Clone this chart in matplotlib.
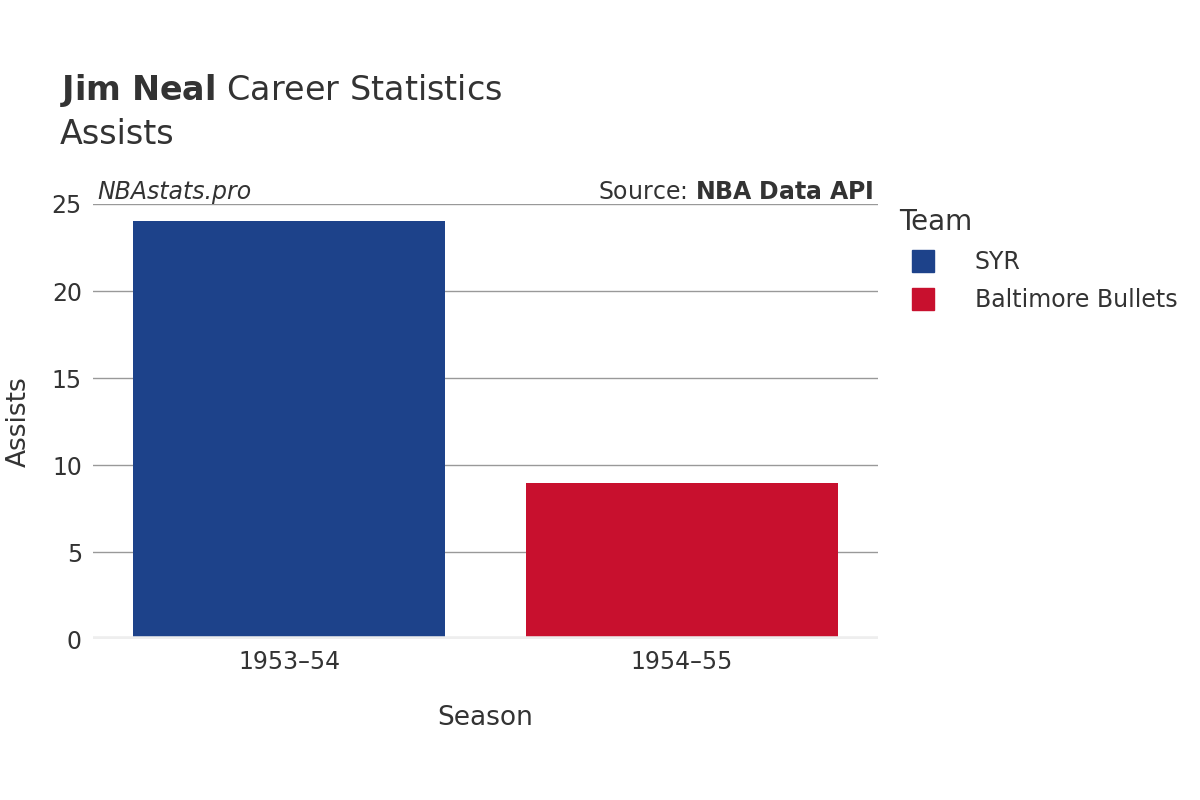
import matplotlib.pyplot as plt
from matplotlib.lines import Line2D

seasons = ['1953\u201354', '1954\u201355']
teams = ['SYR', 'Baltimore Bullets']
assists = [24, 9]
colors = ['#1D428A', '#C8102E']

fig = plt.figure(figsize=(12, 8), dpi=100)
ax = fig.add_axes([0.0775, 0.201, 0.654, 0.544])

x = range(len(seasons))
ax.bar(x, assists, width=0.795, color=colors, zorder=3)

ax.set_xlim(-0.5, 1.5)
ax.set_ylim(0, 25)
ax.set_yticks([0, 5, 10, 15, 20, 25])
ax.set_xticks(list(x))
ax.set_xticklabels(seasons)
ax.grid(axis='y', color='#999999', linewidth=1, zorder=0)
ax.axhline(0, color='#eeeeee', linewidth=4, zorder=4)
for s in ax.spines.values():
    s.set_visible(False)
ax.tick_params(length=0, labelsize=17, colors='#333333', pad=8)
ax.set_xlabel('Season', fontsize=19, color='#333333', labelpad=22)
ax.set_ylabel('Assists', fontsize=19, color='#333333', labelpad=14)

fig.text(0.05, 0.875, r'$\bf{Jim\ Neal}$ Career Statistics', fontsize=24, color='#333333')
fig.text(0.05, 0.820, 'Assists', fontsize=24, color='#333333')
ax.text(0.005, 1.0, 'NBAstats.pro', transform=ax.transAxes, fontsize=17,
        style='italic', color='#333333', va='bottom')
ax.text(0.995, 1.0, r'Source: $\bf{NBA\ Data\ API}$', transform=ax.transAxes,
        fontsize=17, color='#333333', va='bottom', ha='right')

handles = [Line2D([], [], marker='s', linestyle='none', markersize=16,
                  color=c) for c in colors]
leg = ax.legend(handles, teams, loc='upper left', bbox_to_anchor=(1.0, 1.04),
                frameon=False, fontsize=17, title='Team', title_fontsize=20,
                handletextpad=1.2, labelspacing=0.6, labelcolor='#333333')
leg._legend_box.align = 'left'
leg.get_title().set_color('#333333')

fig.savefig('out.png')
